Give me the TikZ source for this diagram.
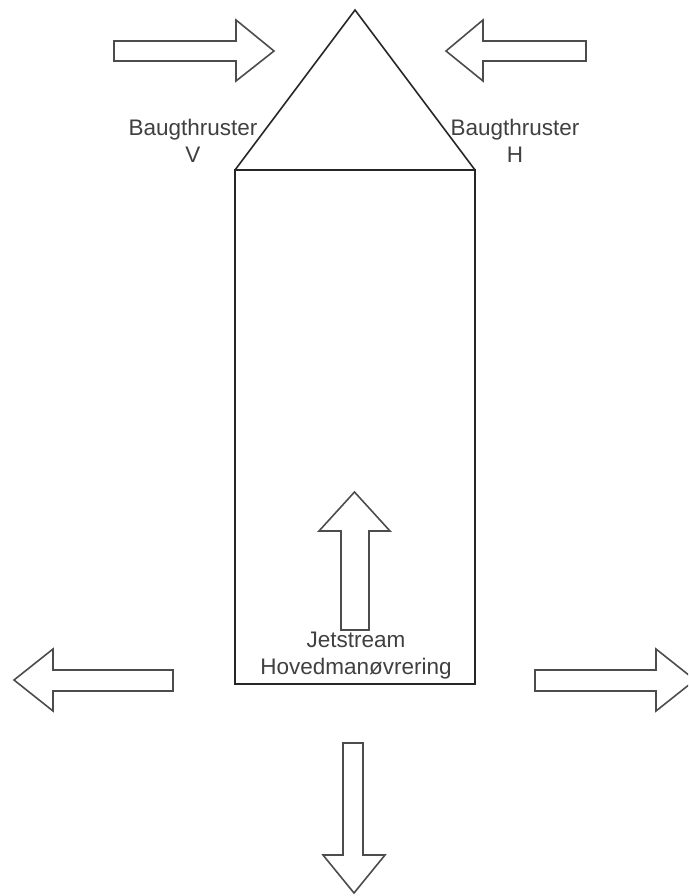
\documentclass[tikz,border=0pt]{standalone}
\usepackage{fontspec}
\setmainfont{Liberation Sans}
\begin{document}
\begin{tikzpicture}[x=1pt, y=-1pt, line join=miter,
    skrog/.style={draw=black!85, line width=1.6pt},
    pil/.style={draw=black!70, line width=1.6pt},
    tekst/.style={align=center, inner sep=0pt, text=black!75,
        font=\fontsize{22.5}{27}\selectfont}]
\useasboundingbox (0,0) rectangle (688,896);
\clip (0,0) rectangle (688,896);

% skroget med baug
\draw[skrog](235,170) rectangle (475,684);
\draw[skrog](235,170)--(355,10)--(475,170);

% baugthrustere
\draw[pil](114,41)--(236,41)--(236,20)--(274,51)--(236,81)--(236,61)--(114,61)--cycle;
\draw[pil](586,41)--(483,41)--(483,20)--(446,51)--(483,81)--(483,61)--(586,61)--cycle;
\node[tekst] (baugv) at (193,141) {Baugthruster\\V};
\node[tekst] (baugh) at (515,141) {Baugthruster\\H};

% jetstream
\draw[pil](341,630)--(341,531)--(319,531)--(354.5,492)--(390,531)--(369,531)--(369,630)--cycle;
\draw[pil](343,743)--(363,743)--(363,855)--(385,855)--(354,893)--(323,855)--(343,855)--cycle;
\draw[pil](173,670)--(53,670)--(53,649)--(14,680)--(53,711)--(53,691)--(173,691)--cycle;
\draw[pil](535,670)--(656,670)--(656,649)--(695,680)--(656,711)--(656,691)--(535,691)--cycle;
\node[tekst] (jet) at (356,656) {Jetstream\\Hovedmanøvrering};

\end{tikzpicture}
\end{document}
